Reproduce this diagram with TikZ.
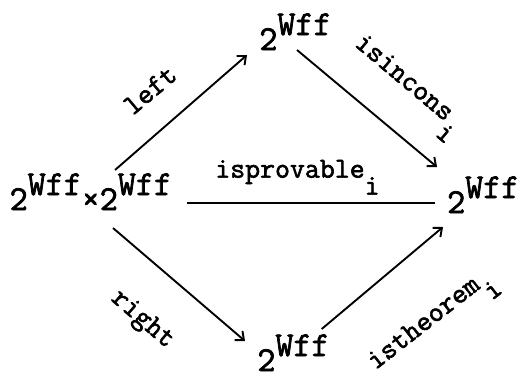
\documentclass[tikz,border=0pt]{standalone}
\usepackage{fontspec}
\newfontfamily\twr{Latin Modern Mono}[FakeBold=2]
\usetikzlibrary{arrows.meta}
\newcommand{\pw}{2\raisebox{15pt}{Wff}}
\newcommand{\sbi}{\rlap{\smash{\raisebox{-17pt}{i}}}}
\begin{document}
\begin{tikzpicture}[x=1pt,y=-1pt,
  obj/.style={font=\twr\fontsize{35}{40}\selectfont, inner sep=0pt, anchor=base west},
  lab/.style={font=\twr\fontsize{29}{34}\selectfont, inner sep=0pt},
  arr/.style={line width=1.9pt, -{Straight Barb[length=7pt,width=12pt]}},
  ln/.style={line width=1.9pt}]
\useasboundingbox (0,0) rectangle (527,373);
\node[obj] (L) at (9.5,210) {\pw×\pw};
\node[obj] (T) at (259.2,50) {\pw};
\node[obj] (R) at (447,213) {\pw};
\node[obj] (B) at (257.2,371) {\pw};
\node[lab, rotate=40] (l1) at (150,90) {left};
\node[lab, rotate=-40] (l2) at (405,77) {isincons\sbi};
\node[lab] (l3) at (290,172) {isprovable\sbi};
\node[lab, rotate=-41] (l4) at (142,320) {right};
\node[lab, rotate=38] (l5) at (423,322) {istheorem\sbi};
\draw[arr] ([shift={(105.5,-40)}]L.base west) -- ([shift={(-12.2,5)}]T.base west);
\draw[arr] ([shift={(37.8,0)}]T.base west) -- ([shift={(-10,-46)}]R.base west);
\draw[ln] ([shift={(177.5,-7)}]L.base west) -- ([shift={(-12,-10)}]R.base west);
\draw[arr] ([shift={(103.5,18)}]L.base west) -- ([shift={(-12.2,-30)}]B.base west);
\draw[arr] ([shift={(64.5,-42)}]B.base west) -- ([shift={(-4,14)}]R.base west);
\end{tikzpicture}
\end{document}
